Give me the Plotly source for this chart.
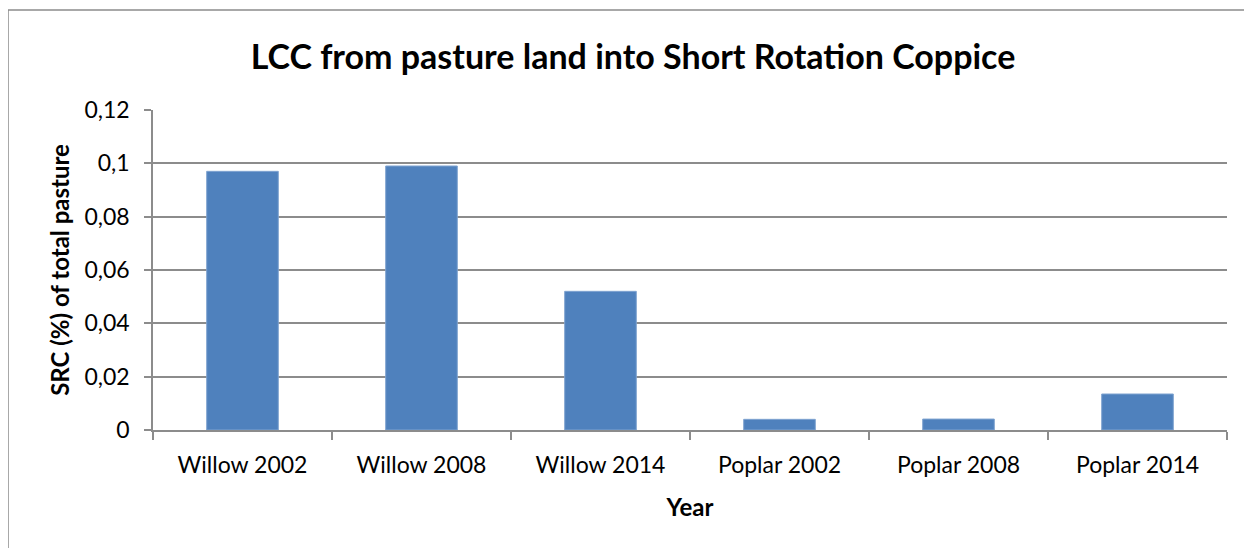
import plotly.graph_objects as go

categories = ["Willow 2002", "Willow 2008", "Willow 2014", "Poplar 2002", "Poplar 2008", "Poplar 2014"]
values = [0.097, 0.099, 0.052, 0.004, 0.0041, 0.0135]
y_tickvals = [0, 0.02, 0.04, 0.06, 0.08, 0.1, 0.12]
y_ticktext = ["0", "0,02", "0,04", "0,06", "0,08", "0,1", "0,12"]

FONT = "Lato, 'Open Sans', sans-serif"
GRAY = "#8c8c8c"

W, H = 1244, 540
L, T, R, B = 145, 102, 25, 118
PW, PH = W - L - R, H - T - B

fig = go.Figure(go.Bar(x=categories, y=values, marker=dict(color="#4F81BD", line=dict(color="#7fa3d0", width=1))))

fig.update_layout(
    width=W, height=H,
    margin=dict(l=L, r=R, t=T, b=B),
    paper_bgcolor="white", plot_bgcolor="white",
    bargap=0.6,
    showlegend=False,
    font=dict(family=FONT, color="black", size=23),
    title=dict(text="<b>LCC from pasture land into Short Rotation Coppice</b>",
               x=(633 - 8) / W, xanchor="center", y=1 - (57 - 8) / H, yanchor="middle",
               font=dict(size=34, family=FONT)),
    xaxis=dict(
        title=dict(text="<b>Year</b>", font=dict(size=24), standoff=22),
        showline=True, linecolor=GRAY, linewidth=1.5,
        ticks="outside", tickcolor=GRAY, ticklen=8, tickwidth=1.5,
        tickson="boundaries", tickfont=dict(size=23), ticklabelstandoff=14,
        showgrid=False,
    ),
    yaxis=dict(
        title=dict(text="<b>SRC (%) of total pasture</b>", font=dict(size=24), standoff=8),
        range=[0, 0.12], tickvals=y_tickvals, ticktext=y_ticktext,
        showline=True, linecolor=GRAY, linewidth=1.5,
        ticks="outside", tickcolor=GRAY, ticklen=7, tickwidth=1.5,
        showgrid=True, gridcolor=GRAY, gridwidth=1.5,
        tickfont=dict(size=23), zeroline=False, ticklabelstandoff=10,
    ),
    shapes=[dict(type="rect", xref="paper", yref="paper",
                 x0=(8 - 8 - L) / PW, x1=1.1, y0=-0.6, y1=(PH + T - 2) / PH,
                 line=dict(color=GRAY, width=1.5), fillcolor="rgba(0,0,0,0)", layer="below")],
)

fig.write_html("out.html")
